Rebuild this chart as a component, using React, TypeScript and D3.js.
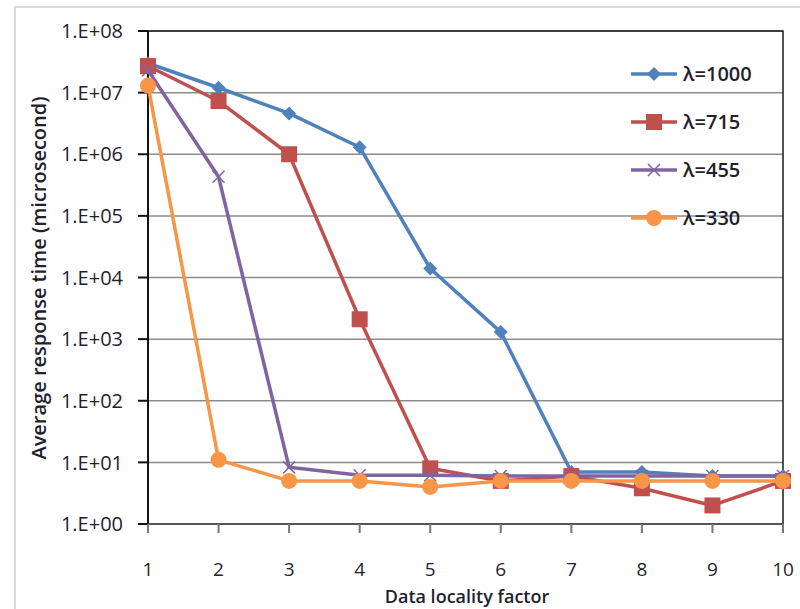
import React from 'react';
import * as d3 from 'd3';

const factors = [1, 2, 3, 4, 5, 6, 7, 8, 9, 10];
const lambda1000 = [3.0e7, 1.2e7, 4.6e6, 1.3e6, 1.4e4, 1.3e3, 7, 7, 6, 6];
const lambda715 = [2.7e7, 7.3e6, 1.0e6, 2.1e3, 8, 5, 6, 3.8, 2, 5];
const lambda455 = [2.3e7, 4.3e5, 8.3, 6.2, 6.2, 6, 6, 6, 6, 6];
const lambda330 = [1.3e7, 11, 5, 5, 4, 5, 5, 5, 5, 5];
const yTicks = [1, 10, 100, 1e3, 1e4, 1e5, 1e6, 1e7, 1e8];
const yTickLabels = ['1.E+00', '1.E+01', '1.E+02', '1.E+03', '1.E+04', '1.E+05', '1.E+06', '1.E+07', '1.E+08'];

const series = [
    { name: 'λ=1000', values: lambda1000, color: '#4f81bd', marker: 'diamond' },
    { name: 'λ=715', values: lambda715, color: '#c0504d', marker: 'square' },
    { name: 'λ=455', values: lambda455, color: '#8064a2', marker: 'cross' },
    { name: 'λ=330', values: lambda330, color: '#f79646', marker: 'circle' },
];

const font = '"Open Sans", "Noto Sans", sans-serif';
const textColor = '#1f1f2e';

function Marker({ type, x, y, color }: { type: string; x: number; y: number; color: string }) {
    if (type === 'diamond') {
        const s = 7;
        return <path d={`M${x},${y - s}L${x + s},${y}L${x},${y + s}L${x - s},${y}Z`} fill={color} />;
    }
    if (type === 'square') {
        const s = 8;
        return <rect x={x - s} y={y - s} width={s * 2} height={s * 2} fill={color} />;
    }
    if (type === 'cross') {
        const s = 6;
        return <path d={`M${x - s},${y - s}L${x + s},${y + s}M${x - s},${y + s}L${x + s},${y - s}`} stroke={color} strokeWidth={1.5} fill="none" />;
    }
    return <circle cx={x} cy={y} r={8} fill={color} />;
}

export default function App() {
    const width = 800, height = 609;
    const margin = { top: 31, right: 17, bottom: 85, left: 148 };
    const innerW = width - margin.left - margin.right;
    const innerH = height - margin.top - margin.bottom;

    const x = d3.scaleLinear().domain([1, 10]).range([0, innerW]);
    const y = d3.scaleLog().domain([1, 1e8]).range([innerH, 0]);

    const line = d3.line<number>()
        .x((_, i) => x(factors[i]))
        .y(d => y(d));

    return (
        <svg width={width} height={height} style={{ display: 'block', position: 'absolute', left: 0, top: 0 }}>
            <rect x={0} y={0} width={width} height={height} fill="#fff" />
            <rect x={15} y={7} width={width} height={height} fill="none" stroke="#d0d0d0" strokeWidth={1.5} />
            <g transform={`translate(${margin.left},${margin.top})`}>
                {yTicks.map(t => (
                    <line key={t} x1={0} x2={innerW} y1={y(t)} y2={y(t)} stroke="#8c8c8c" strokeWidth={1.5} />
                ))}
                <rect x={0} y={0} width={innerW} height={innerH} fill="none" stroke="#1a1a1a" strokeWidth={1.5} />
                <line x1={0} x2={0} y1={0} y2={innerH} stroke="#111" strokeWidth={2} />
                <line x1={0} x2={innerW} y1={innerH} y2={innerH} stroke="#555" strokeWidth={2} />
                {yTicks.map((t, i) => (
                    <g key={t}>
                        <line x1={-10} x2={0} y1={y(t)} y2={y(t)} stroke="#111" strokeWidth={2} />
                        <text x={-25} y={y(t)} dy="0.36em" textAnchor="end" fontFamily={font} fontSize={20} fill={textColor}>{yTickLabels[i]}</text>
                    </g>
                ))}
                {factors.map(f => (
                    <g key={f}>
                        <line x1={x(f)} x2={x(f)} y1={innerH} y2={innerH + 9} stroke="#777" strokeWidth={2} />
                        <text x={x(f)} y={innerH + 45} dy="0.36em" textAnchor="middle" fontFamily={font} fontSize={19} fill={textColor}>{f}</text>
                    </g>
                ))}
                {series.map(s => (
                    <g key={s.name}>
                        <path d={line(s.values) || ''} fill="none" stroke={s.color} strokeWidth={3.5} strokeLinejoin="round" />
                        {s.values.map((v, i) => (
                            <Marker key={i} type={s.marker} x={x(factors[i])} y={y(v)} color={s.color} />
                        ))}
                    </g>
                ))}
            </g>
            <text x={467} y={597} dy="0.36em" textAnchor="middle" fontFamily={font} fontSize={18} fontWeight={600} fill={textColor}>Data locality factor</text>
            <text transform="translate(39,278) rotate(-90)" dy="0.36em" textAnchor="middle" fontFamily={font} fontSize={20} fontWeight={600} fill={textColor}>Average response time (microsecond)</text>
            <g>
                {series.map((s, i) => {
                    const ly = 74 + i * 48;
                    return (
                        <g key={s.name}>
                            <line x1={631} x2={677} y1={ly} y2={ly} stroke={s.color} strokeWidth={3.5} />
                            <Marker type={s.marker} x={654} y={ly} color={s.color} />
                            <text x={683} y={ly} dy="0.36em" fontFamily={font} fontSize={20} fontWeight={600} fill={textColor}>{s.name}</text>
                        </g>
                    );
                })}
            </g>
        </svg>
    );
}
